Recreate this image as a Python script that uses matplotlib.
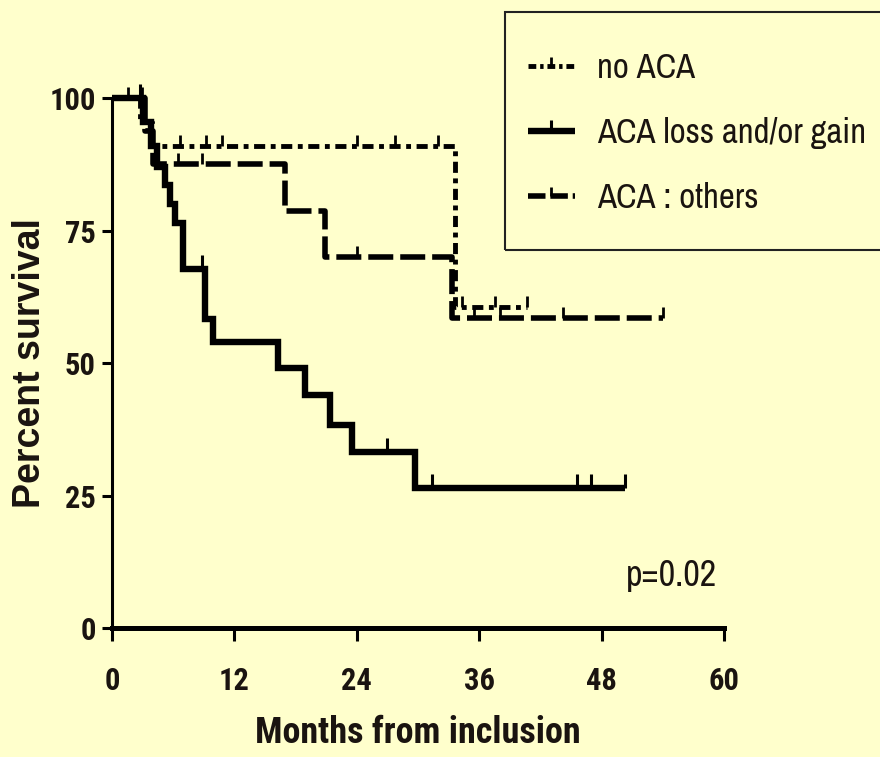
import numpy as np
import matplotlib
matplotlib.use('Agg')
import matplotlib.pyplot as plt
from matplotlib.lines import Line2D
from matplotlib.patches import Rectangle
from matplotlib import font_manager as fm

plt.rcParams['lines.scale_dashes'] = False


def _w(v):
    if isinstance(v, str):
        return fm.weight_dict.get(v, 400)
    return int(v)


_faces = {}
for f in fm.fontManager.ttflist:
    _faces.setdefault(f.name, []).append((_w(f.weight), f.stretch, f.style))

_cands = ['Arial Narrow', 'Liberation Sans Narrow', 'Archivo Narrow',
          'Roboto Condensed', 'PT Sans Narrow', 'Fira Sans Condensed',
          'IBM Plex Sans Condensed', 'Encode Sans Condensed', 'Asap Condensed',
          'Barlow Condensed', 'Sofia Sans Condensed', 'Saira Condensed',
          'Open Sans Condensed', 'Nimbus Sans Narrow']
REG_NAME = next((c for c in _cands if c in _faces), 'Liberation Sans')
BOLD_NAME = next((c for c in _cands if c in _faces and
                  any(w >= 700 and st == 'normal' for w, _, st in _faces[c])),
                 'Liberation Sans')

BG = '#FFFFCC'
NARROW = [REG_NAME, 'DejaVu Sans']
NARROW_B = [BOLD_NAME, 'DejaVu Sans']
ARIAL = ['Liberation Sans', 'DejaVu Sans']
TXT = '#1a1410'

# ---------------- data ----------------
labels = ['no ACA', 'ACA loss and/or gain', 'ACA : others']

noaca_t = [0, 2.7, 3.9, 33.6]
noaca_s = [100, 95.5, 90.9, 60.6]
noaca_end = 40.7
noaca_cens = [1.6, 6.7, 9.2, 10.8, 24.0, 27.7, 32.0, 34.3, 37.5, 40.7]

aca_t = [0, 3.0, 3.8, 4.4, 5.2, 5.7, 6.2, 7.0, 9.1, 9.9, 16.3, 18.9, 21.4, 23.5, 29.7]
aca_s = [100, 95.5, 91.0, 87.0, 83.5, 80.0, 76.5, 67.8, 58.3, 54.0, 49.1, 44.0, 38.3, 33.2, 26.4]
aca_end = 50.3
aca_cens = [2.7, 8.8, 27.0, 31.4, 45.6, 47.0, 50.3]

oth_t = [0, 3.2, 4.0, 17.0, 20.9, 33.3]
oth_s = [100, 93.75, 87.5, 78.7, 70.0, 58.5]
oth_end = 54.0
oth_cens = [2.9, 6.5, 8.8, 24.0, 35.5, 38.0, 44.2, 54.0]

xticks = [0, 12, 24, 36, 48, 60]
yticks = [0, 25, 50, 75, 100]
pval = 'p=0.02'

# ---------------- styles ----------------
styles = [
    dict(lw=3.5, dashes=[8, 4, 3.5, 4], ms=16, mew=2.0),
    dict(lw=4.6, dashes=None, ms=20, mew=2.2),
    dict(lw=4.0, dashes=[18, 5], ms=16, mew=2.0),
]
tick_marker = [(0, 0), (0, 1)]

fig = plt.figure(figsize=(8.8, 7.57), dpi=100, facecolor=BG)
ax = fig.add_axes([112/880, 1-628/757, (724-112)/880, (628-98)/757])
ax.set_facecolor(BG)

groups = [(noaca_t, noaca_s, noaca_end, noaca_cens),
          (aca_t, aca_s, aca_end, aca_cens),
          (oth_t, oth_s, oth_end, oth_cens)]

handles = []
for (t, s, end, cens), st, lab in zip(groups, styles, labels):
    x = list(t) + [end]
    y = list(s) + [s[-1]]
    ln, = ax.step(x, y, where='post', color='black', lw=st['lw'],
                  clip_on=False, solid_capstyle='butt', dash_capstyle='butt',
                  solid_joinstyle='miter')
    if st['dashes'] is not None:
        ln.set_dashes(st['dashes'])
    idx = np.searchsorted(np.array(t), np.array(cens), side='right') - 1
    cy = np.array(s)[idx]
    ax.plot(cens, cy, linestyle='none', marker=tick_marker, ms=st['ms'],
            mec='black', mew=st['mew'], clip_on=False)
    h = Line2D([0], [0], color='black', lw=st['lw'], marker=tick_marker,
               ms=st['ms'] * 0.8, mew=st['mew'], mec='black',
               solid_capstyle='butt', dash_capstyle='butt')
    if st['dashes'] is not None:
        h.set_dashes([d * 0.7 for d in st['dashes']])
    handles.append(h)

ax.set_xlim(0, 60)
ax.set_ylim(0, 100)
ax.set_xticks(xticks)
ax.set_yticks(yticks)
for sp in ['top', 'right']:
    ax.spines[sp].set_visible(False)
ax.spines['left'].set_linewidth(2.2)
ax.spines['bottom'].set_linewidth(3.6)
ax.tick_params(axis='x', direction='out', length=9, width=2.2, pad=18)
ax.tick_params(axis='y', direction='out', length=7.5, width=2.2, pad=4)
for lbl in ax.get_xticklabels() + ax.get_yticklabels():
    lbl.set_fontfamily(NARROW_B)
    lbl.set_fontweight('bold')
    lbl.set_fontsize(22)
    lbl.set_color(TXT)

ax.set_xlabel('Months from inclusion', fontfamily=NARROW_B, fontweight='bold',
              fontsize=26, color=TXT)
ax.xaxis.set_label_coords(0.5, -(733 - 628) / 530, transform=ax.transAxes)
ax.xaxis.label.set_va('center')
ax.set_ylabel('Percent survival', fontfamily=ARIAL, fontweight='bold',
              fontsize=27, color=TXT)
ax.yaxis.set_label_coords((30 - 112) / 612, 0.5)
ax.yaxis.label.set_va('center')

ax.text((717 - 112) / 612, (628 - 575) / 530, pval, transform=ax.transAxes,
        ha='right', va='center', fontfamily=NARROW, fontsize=26, color=TXT)

# legend box (extends past the right edge)
fig.patches.append(Rectangle((505/880, 1-250/757), 400/880, (250-12)/757,
                             transform=fig.transFigure, fill=False,
                             edgecolor='#222222', lw=1.5, zorder=5))
leg = fig.legend(handles, labels, loc='upper left',
                 bbox_to_anchor=(528/880, 1-52/757), frameon=False,
                 prop=dict(family=NARROW, size=25), handlelength=1.35,
                 handletextpad=0.65, labelspacing=0.95, borderpad=0,
                 borderaxespad=0, numpoints=1)
for t in leg.get_texts():
    t.set_color(TXT)

fig.savefig('out.png', dpi=100, facecolor=BG)
